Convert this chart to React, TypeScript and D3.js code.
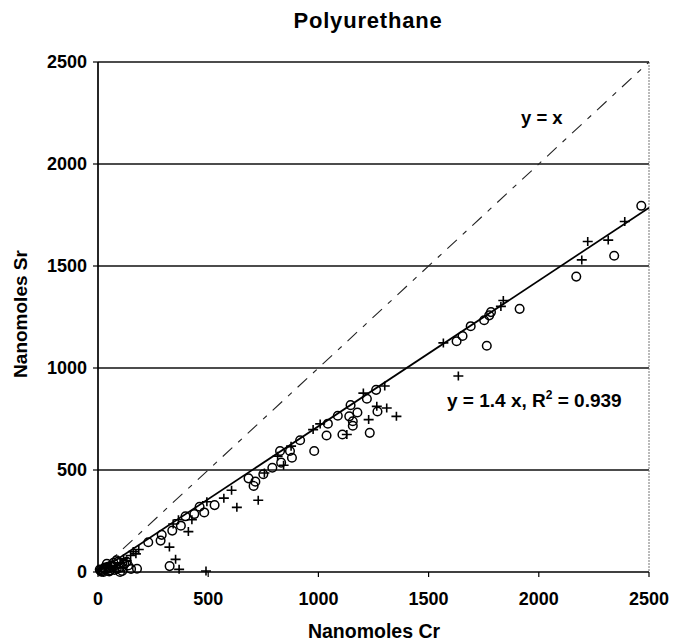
import React from "react";
import * as d3 from "d3";

const W = 674;
const H = 643;

const xTicks = [0, 500, 1000, 1500, 2000, 2500];
const yTicks = [0, 500, 1000, 1500, 2000, 2500];

const circleX = [2465, 2342, 2170, 1913, 1783, 1775, 1752, 1691, 1654, 1627, 1764, 1262, 1220, 1146, 1088, 1140, 1177, 1156, 1156, 1268, 1233, 1109, 1037, 1043, 981, 917, 871, 826, 880, 831, 791, 750, 683, 714, 706, 529, 461, 482, 437, 397, 376, 337, 289, 284, 228, 325, 177, 84, 60, 27, 11, 100, 137, 108, 51, 20, 35, 45, 70, 90, 120, 150, 75, 40, 95, 15, 30, 55, 65, 85, 110, 8, 25, 50, 130];
const circleY = [1795, 1550, 1448, 1290, 1274, 1258, 1234, 1205, 1157, 1131, 1109, 893, 849, 818, 766, 763, 782, 739, 717, 787, 682, 674, 669, 727, 593, 646, 593, 593, 560, 536, 511, 479, 459, 443, 422, 328, 320, 292, 284, 273, 227, 203, 182, 154, 146, 29, 16, 57, 32, 16, 8, 0, 32, 24, 3, 5, 12, 25, 45, 50, 40, 15, 10, 40, 20, 2, 22, 8, 30, 15, 5, 12, 0, 18, 50];

const plusX = [2390, 2222, 2315, 2195, 1839, 1828, 1567, 1635, 1301, 1204, 1265, 1310, 1228, 1354, 1129, 1008, 976, 876, 815, 842, 755, 727, 630, 606, 571, 494, 426, 365, 341, 410, 324, 352, 368, 490, 116, 148, 172, 160, 130, 100, 60, 185, 80];
const plusY = [1718, 1620, 1627, 1530, 1331, 1302, 1123, 961, 912, 877, 812, 804, 747, 763, 674, 726, 698, 617, 568, 523, 485, 352, 317, 401, 362, 344, 256, 256, 235, 198, 122, 62, 13, 5, 65, 81, 89, 100, 55, 45, 30, 110, 20];

const fitSlope = 1 / 1.4;
const FONT = "'Liberation Sans', Arial, sans-serif";

export default function App() {
  const left = 98, right = 649, top = 62, bottom = 572;
  const x = d3.scaleLinear().domain([0, 2500]).range([left, right]);
  const y = d3.scaleLinear().domain([0, 2500]).range([bottom, top]);
  const line = d3.line<[number, number]>().x((d) => x(d[0])).y((d) => y(d[1]));

  return (
    <>
      <style>{"body{margin:0}"}</style>
      <svg width={W} height={H} style={{ display: "block", background: "#fff" }} fontFamily={FONT}>
        <rect width={W} height={H} fill="#fff" />
        {yTicks.filter((t) => t > 0).map((t) => (
          <line key={"g" + t} x1={left} x2={right} y1={y(t)} y2={y(t)} stroke="#111" strokeWidth={1.3} />
        ))}
        <line x1={right} x2={right} y1={top} y2={bottom} stroke="#777" strokeWidth={1} strokeDasharray="2,1" />
        <line x1={left} x2={left} y1={top} y2={bottom} stroke="#000" strokeWidth={1.7} />
        <line x1={left} x2={right} y1={bottom} y2={bottom} stroke="#000" strokeWidth={1.3} />
        {yTicks.map((t) => (
          <g key={"yt" + t}>
            <line x1={left - 5} x2={left} y1={y(t)} y2={y(t)} stroke="#000" strokeWidth={1.2} />
            <text x={left - 11} y={y(t)} dy="0.36em" textAnchor="end" fontSize={18} fontWeight="bold">{t}</text>
          </g>
        ))}
        {xTicks.map((t) => (
          <g key={"xt" + t}>
            <line x1={x(t)} x2={x(t)} y1={bottom} y2={bottom + 5} stroke="#000" strokeWidth={1.2} />
            <text x={x(t)} y={605} textAnchor="middle" fontSize={18} fontWeight="bold">{t}</text>
          </g>
        ))}
        <path d={line([[0, 0], [2500, 2500]]) || ""} fill="none" stroke="#222" strokeWidth={1.1} strokeDasharray="13,8,5,8" />
        <path d={line([[0, 0], [2500, 2500 * fitSlope]]) || ""} fill="none" stroke="#000" strokeWidth={1.7} />
        {circleX.map((v, i) => (
          <circle key={"c" + i} cx={x(v)} cy={y(circleY[i])} r={4.3} fill="none" stroke="#000" strokeWidth={1.5} />
        ))}
        {plusX.map((v, i) => {
          const cx = x(v), cy = y(plusY[i]);
          return (
            <path key={"p" + i} d={`M${cx - 5},${cy}H${cx + 5}M${cx},${cy - 4.5}V${cy + 4.5}`} stroke="#000" strokeWidth={1.6} fill="none" />
          );
        })}
        <text x={368} y={28} textAnchor="middle" fontSize={22} fontWeight="bold" letterSpacing={0.8}>Polyurethane</text>
        <text x={374} y={638} textAnchor="middle" fontSize={19.5} fontWeight="bold">Nanomoles Cr</text>
        <text transform="translate(27,314) rotate(-90)" textAnchor="middle" fontSize={19} fontWeight="bold">Nanomoles Sr</text>
        <text x={521} y={124} fontSize={18.5} fontWeight="bold">y = x</text>
        <text x={447} y={407} fontSize={19} fontWeight="bold">
          y = 1.4 x, R<tspan fontSize={12} dy={-8}>2</tspan><tspan dy={8}> = 0.939</tspan>
        </text>
      </svg>
    </>
  );
}
